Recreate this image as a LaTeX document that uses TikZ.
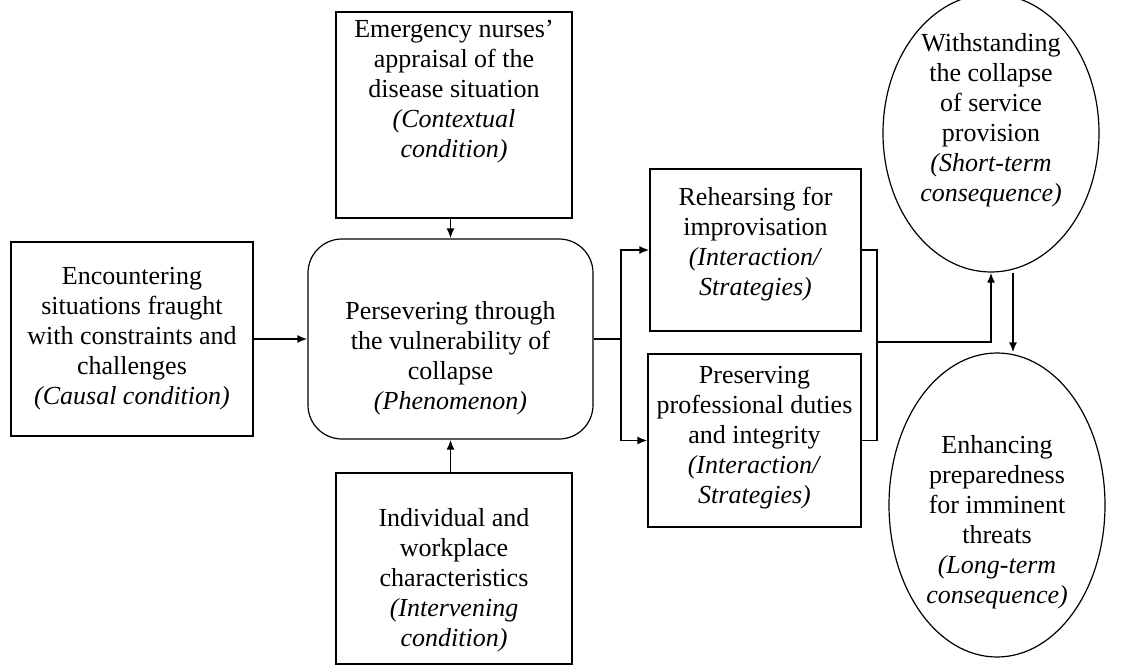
\documentclass[tikz,border=0pt]{standalone}
\usepackage{fontspec}
\setmainfont{Liberation Serif}
\usetikzlibrary{arrows.meta,shapes.geometric}
\begin{document}
\begin{tikzpicture}[x=1pt,y=-1pt,
  frame/.style={draw,line width=1.2pt,inner sep=0pt},
  roundframe/.style={frame,rounded corners=34pt},
  oval/.style={draw,ellipse,line width=1.2pt,inner sep=0pt},
  txt/.style={align=center,inner sep=0pt,font=\fontsize{26}{30}\selectfont},
  link/.style={line width=1.8pt},
  arr/.style={link,-{Latex[length=10pt,width=8pt]}}]
\useasboundingbox (0,0) rectangle (1130,666);
\clip (0,0) rectangle (1130,666);

% boxes
\node[frame,minimum width=242pt,minimum height=194pt] (L) at (132,339) {};
\node[roundframe,minimum width=285pt,minimum height=200pt] (C) at (450.5,339) {};
\node[frame,minimum width=236pt,minimum height=206pt] (T) at (454,115) {};
\node[frame,minimum width=236pt,minimum height=191pt] (B) at (454,568.5) {};
\node[frame,minimum width=211pt,minimum height=162pt] (R) at (755.5,250) {};
\node[frame,minimum width=213pt,minimum height=173pt] (P) at (754.5,440.5) {};
\node[oval,minimum width=216pt,minimum height=278pt] (E1) at (991,133) {};
\node[oval,minimum width=216pt,minimum height=304pt] (E2) at (997,505) {};

% texts
\node[txt] (Lt) at (132,339) {Encountering\\situations fraught\\with constraints and\\challenges\\\textit{(Causal condition)}};
\node[txt] (Ct) at (450.5,358) {Persevering through\\the vulnerability of\\collapse\\\textit{(Phenomenon)}};
\node[txt] (Tt) at (454,92) {Emergency nurses'\\appraisal of the\\disease situation\\\textit{(Contextual}\\\textit{condition)}};
\node[txt] (Bt) at (454,580) {Individual and\\workplace\\characteristics\\\textit{(Intervening}\\\textit{condition)}};
\node[txt] (Rt) at (755.5,244) {Rehearsing for\\improvisation\\\textit{(Interaction/}\\\textit{Strategies)}};
\node[txt] (Pt) at (754.5,438) {Preserving\\professional duties\\and integrity\\\textit{(Interaction/}\\\textit{Strategies)}};
\node[txt] (E1t) at (991,120) {Withstanding\\the collapse\\of service\\provision\\\textit{(Short-term}\\\textit{consequence)}};
\node[txt] (E2t) at (997,522) {Enhancing\\preparedness\\for imminent\\threats\\\textit{(Long-term}\\\textit{consequence)}};

% junction points
\coordinate (J) at (621,339);
\coordinate (K) at (877,342);

% connectors
\draw[arr] (L.east) -- (C.west);
\draw[arr] (C.north |- T.south) -- (C.north);
\draw[arr] (C.south |- B.north) -- (C.south);
\draw[link] (C.east) -- (J);
\draw[arr] (J) |- (R.west);
\draw[arr] (J) |- (P.west);
\draw[link] (R.east) -| (K) |- (P.east);
\draw[arr] (K) -| (E1.south);
\draw[arr] (1013,0 |- E1.south) -- (1013,0 |- E2.north);
\end{tikzpicture}
\end{document}
